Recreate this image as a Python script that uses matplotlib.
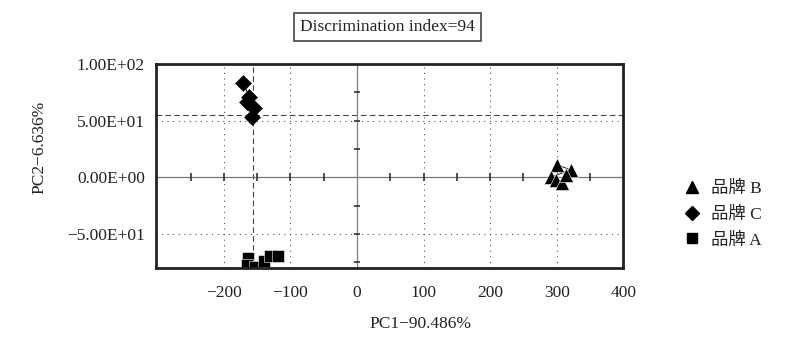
import matplotlib.pyplot as plt
from matplotlib.lines import Line2D

plt.rcParams['font.family'] = ['Liberation Serif', 'Noto Sans CJK SC']

# brand scores on PC1 / PC2
brand_b_x = [301, 321, 291, 299, 308, 314]
brand_b_y = [11, 6.5, 0, -2, -5, 2]
brand_c_x = [-171, -162, -165, -155, -158]
brand_c_y = [83, 71, 66, 61, 53]
brand_a_x = [-164, -165, -153, -140, -131, -119]
brand_a_y = [-71, -77, -79, -74, -69.5, -69.5]

legend_labels = ['品牌 B', '品牌 C', '品牌 A']
x_ticks = [-200, -100, 0, 100, 200, 300, 400]
y_ticks = [-50, 0, 50, 100]
y_tick_labels = ['\u22125.00E+01', '0.00E+00', '5.00E+01', '1.00E+02']

# reference lines
v_dotted = [-200, -100, 100, 200, 300]
v_dashed = -156
h_dotted = [50, -50]
h_dashed = 55
x_axis_marks = [-250, -200, -150, -100, -50, 50, 100, 150, 200, 250, 350]
y_axis_marks = [-75, -50, -25, 25, 50, 75]

fig = plt.figure(figsize=(8, 3.55), dpi=100)
ax = fig.add_axes([0.195, 0.245, 0.584, 0.575])
ax.set_xlim(-302, 400)
ax.set_ylim(-80, 100)

for v in v_dotted:
    ax.axvline(v, color='#555555', lw=0.8, ls=(0, (1, 4)))
ax.axvline(v_dashed, color='#444444', lw=0.8, ls=(0, (5, 3)))
for h in h_dotted:
    ax.axhline(h, color='#555555', lw=0.8, ls=(0, (1, 4)))
ax.axhline(h_dashed, color='#444444', lw=0.8, ls=(0, (5, 3)))

ax.axhline(0, color='#777777', lw=0.9)
ax.axvline(0, color='#888888', lw=1.0)
ax.plot(x_axis_marks, [0] * len(x_axis_marks), ls='none', marker='|',
        ms=6, mew=1.2, color='#333333')
ax.plot([0] * len(y_axis_marks), y_axis_marks, ls='none', marker='_',
        ms=5, mew=1.2, color='#333333')

ax.plot(brand_b_x, brand_b_y, color='black', lw=0.6, marker='^', ms=10,
        mfc='black', mec='white', mew=0.4)
ax.plot(brand_c_x, brand_c_y, color='black', lw=0.6, marker='D', ms=8.5,
        mfc='black', mec='black', mew=0.4)
ax.plot(brand_a_x, brand_a_y, color='black', lw=0.6, marker='s', ms=8.5,
        mfc='black', mec='white', mew=0.4)

for s in ax.spines.values():
    s.set_linewidth(2)
    s.set_color('#222222')

ax.set_xticks(x_ticks)
ax.set_xticklabels([str(t).replace('-', '\u2212') for t in x_ticks])
ax.set_yticks(y_ticks)
ax.set_yticklabels(y_tick_labels)
ax.tick_params(length=0, labelsize=12.5, pad=8, colors='#222222')
ax.tick_params(axis='x', pad=12)

fig.text(0.049, 0.585, 'PC2\u22126.636%', rotation=90, ha='center',
         va='center', fontsize=12.5, color='#222222')
fig.text(0.526, 0.088, 'PC1\u221290.486%', ha='center', va='center',
         fontsize=12.5, color='#222222')

fig.text(0.484, 0.924, 'Discrimination index=94', ha='center', va='center',
         fontsize=12.5, color='#222222',
         bbox=dict(boxstyle='square,pad=0.35', fc='white', ec='#444444', lw=1.2))

handles = [Line2D([], [], ls='none', marker='^', ms=8, color='black'),
           Line2D([], [], ls='none', marker='D', ms=7, color='black'),
           Line2D([], [], ls='none', marker='s', ms=7, color='black')]
leg = fig.legend(handles, legend_labels, loc='center left',
                 bbox_to_anchor=(0.834, 0.395), frameon=False, fontsize=12.5,
                 handlelength=1.0, handletextpad=0.6, labelspacing=0.55)
for t in leg.get_texts():
    t.set_color('#222222')

fig.savefig('out.png', dpi=100)
